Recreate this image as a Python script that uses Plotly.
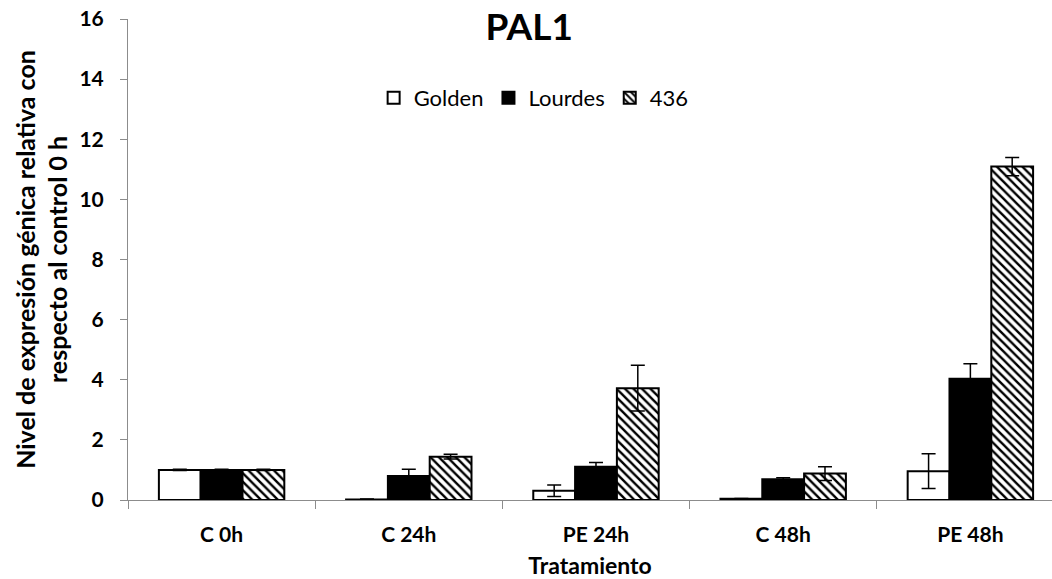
import plotly.graph_objects as go

categories = ["C 0h", "C 24h", "PE 24h", "C 48h", "PE 48h"]
golden = [1.0, 0.02, 0.31, 0.04, 0.96]
golden_err = [0.02, 0.01, 0.19, 0.01, 0.58]
lourdes = [1.0, 0.8, 1.11, 0.69, 4.03]
lourdes_err = [0.02, 0.22, 0.14, 0.05, 0.5]
s436 = [1.0, 1.44, 3.72, 0.88, 11.09]
s436_err = [0.02, 0.08, 0.76, 0.23, 0.3]
yticks = [0, 2, 4, 6, 8, 10, 12, 14, 16]

FONT = "Lato"
eb = lambda arr: dict(type="data", array=arr, visible=True, color="black", thickness=1.5, width=7)

fig = go.Figure()
fig.add_trace(go.Bar(name="Golden", x=categories, y=golden, error_y=eb(golden_err),
                     marker=dict(color="white", line=dict(color="black", width=2))))
fig.add_trace(go.Bar(name="Lourdes", x=categories, y=lourdes, error_y=eb(lourdes_err),
                     marker=dict(color="black", line=dict(color="black", width=2))))
fig.add_trace(go.Bar(name="436", x=categories, y=s436, error_y=eb(s436_err),
                     marker=dict(color="white", line=dict(color="black", width=2),
                                 pattern=dict(shape="\\", fgcolor="black", bgcolor="white",
                                              size=6, solidity=0.4, fillmode="replace"))))

fig.update_layout(
    width=1052, height=579,
    margin=dict(l=128, r=0, t=19, b=79),
    paper_bgcolor="white", plot_bgcolor="white",
    barmode="group", bargap=0.33, bargroupgap=0,
    font=dict(family=FONT, color="black"),
    title=dict(text="<b>PAL1</b>", x=0.503, xanchor="center", y=0.953, yanchor="middle",
               font=dict(size=37, family=FONT, color="black")),
    legend=dict(orientation="h", x=0.439, xanchor="center", y=0.836, yanchor="middle",
                font=dict(size=22, family=FONT), itemwidth=30, bgcolor="rgba(0,0,0,0)"),
    xaxis=dict(range=[-0.5, 4.436], showline=True, linecolor="#8c8c8c", linewidth=1,
               ticks="outside", tickson="boundaries", ticklen=8, tickcolor="#8c8c8c",
               tickfont=dict(size=21, family=FONT), showgrid=False, ticklabelstandoff=16,
               title=dict(text="<b>Tratamiento</b>", font=dict(size=23, family=FONT), standoff=12)),
    yaxis=dict(range=[0, 16], tickvals=yticks, ticktext=[f"<b>{v}</b>" for v in yticks],
               showline=True, linecolor="#8c8c8c", linewidth=1, ticks="outside", ticklen=7,
               tickcolor="#8c8c8c", tickfont=dict(size=21, family=FONT), showgrid=False,
               zeroline=False, ticklabelstandoff=12,
               title=dict(text="<b>Nivel de expresión génica relativa con<br>respecto al control 0 h</b>",
                          font=dict(size=25, family=FONT), standoff=4)),
)
fig.update_xaxes(tickvals=categories, ticktext=[f"<b>{c}</b>" for c in categories])

fig.write_html("out.html")
